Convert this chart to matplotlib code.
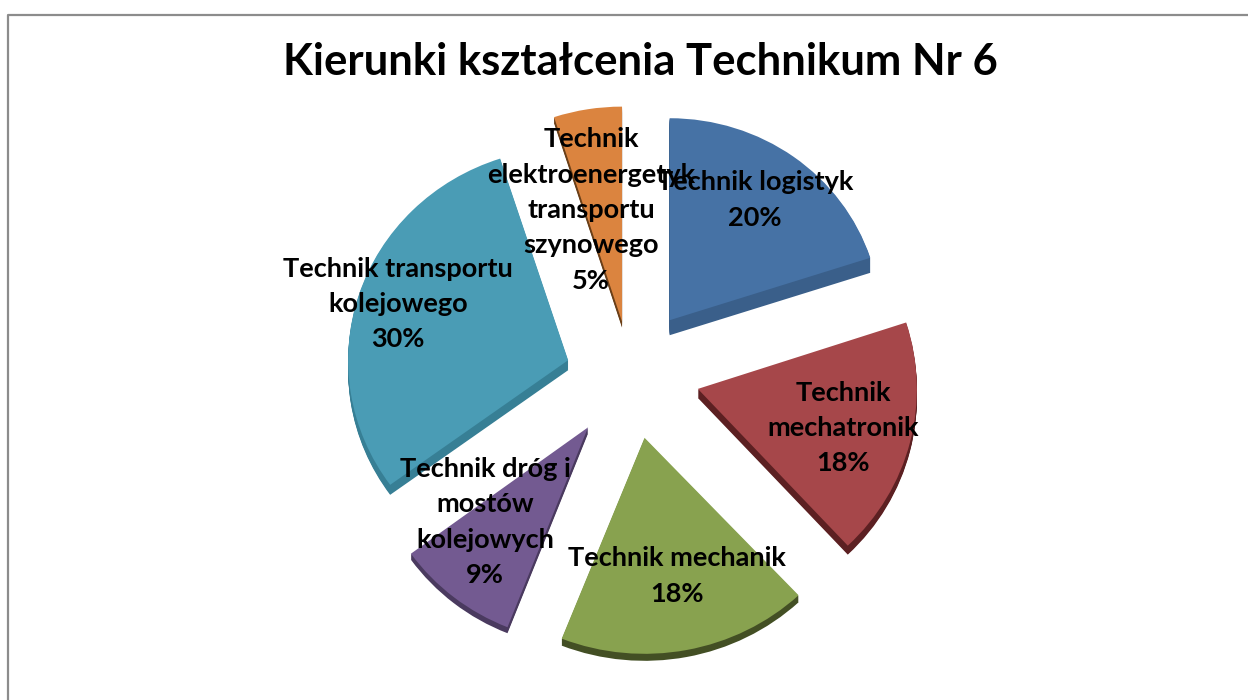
import matplotlib
matplotlib.use("Agg")
import matplotlib.pyplot as plt
from matplotlib.lines import Line2D
from matplotlib.transforms import Affine2D

title = "Kierunki kształcenia Technikum Nr 6"
categories = ["Technik logistyk", "Technik\nmechatronik", "Technik mechanik",
              "Technik dróg i\nmostów\nkolejowych", "Technik transportu\nkolejowego",
              "Technik\nelektroenergetyk\ntransportu\nszynowego"]
values = [20, 18, 18, 9, 30, 5]

# style / layout
face_colors = ["#4672A5", "#A6474A", "#88A24F", "#735A91", "#4A9CB5", "#DB843F"]
side_colors = ["#3A5F8A", "#5C2022", "#434F24", "#4A3A5F", "#377F95", "#6A3F18"]
explode = [64, 68, 67, 70, 64, 51]
depths = [15, 9, 7, 6, 10, 6]
# perspective of the 3D pie: per-slice radii and nudges in pixels
radii_x = [211, 219, 225, 219, 220, 220]
radii_y = [202, 215, 216, 215, 212, 215]
nudge_x = [0, 0, 0, -1, -3, -2]
nudge_y = [0, 0, 0, 0, -8, 0]
label_pos = [(755, 200), (843, 428), (677, 576), (485, 522), (398, 304), (591, 210)]
W, H = 1248, 700
cx, cy, R = 632, H - 372, 215

plt.rcParams["font.family"] = ["Lato", "DejaVu Sans"]
fig = plt.figure(figsize=(W / 100, H / 100), dpi=100, facecolor="white")
ax = fig.add_axes([0, 0, 1, 1])


def draw_pie(colors, drop):
    wedges, _ = ax.pie(values, explode=explode, colors=colors, startangle=90,
                       counterclock=False, radius=R, center=(cx, cy), frame=True,
                       wedgeprops={"linewidth": 0})
    for i, w in enumerate(wedges):
        tx, ty = w.center
        w.set_transform(Affine2D().translate(-tx, -ty)
                        .scale(radii_x[i] / R, radii_y[i] / R)
                        .translate(tx + nudge_x[i], ty + nudge_y[i] - drop)
                        + ax.transData)


for d in range(max(depths), 0, -1):
    draw_pie([s if d <= dp else "none" for s, dp in zip(side_colors, depths)], d)
draw_pie(face_colors, 0)

ax.set_aspect("auto")
ax.set_xlim(0, W)
ax.set_ylim(0, H)
ax.axis("off")

for cat, v, (px, py) in zip(categories, values, label_pos):
    ax.text(px, H - py, f"{cat}\n{v}%", ha="center", va="center", fontsize=19.5,
            fontweight="bold", color="black", linespacing=1.57)

ax.text(640, H - 62, title, ha="center", va="center", fontsize=31.4, fontweight="bold", color="black")

fig.add_artist(Line2D([8 / W, 8 / W, 1], [0, 1 - 15 / H, 1 - 15 / H], color="#8c8c8c", lw=1.6))
fig.savefig("out.png", dpi=100, facecolor="white")
